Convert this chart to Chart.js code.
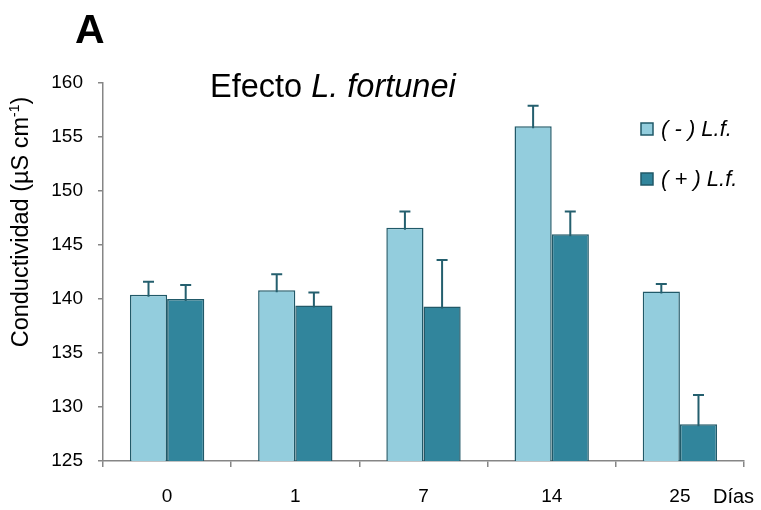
<!DOCTYPE html>
<html>
<head>
<meta charset="utf-8">
<script src="https://cdn.jsdelivr.net/npm/chart.js@4.4.1/dist/chart.umd.min.js"></script>
<style>
  html, body { margin: 0; padding: 0; background: #fff; }
  #wrap { width: 761px; height: 510px; position: relative; }
</style>
</head>
<body>
<div id="wrap"><canvas id="chart"></canvas></div>
<script>
// data
const days = ["0", "1", "7", "14", "25"];
const sinLf = [140.4, 140.8, 146.6, 156.0, 140.7];
const sinLfErr = [1.2, 1.5, 1.5, 1.9, 0.7];
const conLf = [140.0, 139.4, 139.3, 146.0, 128.4];
const conLfErr = [1.3, 1.2, 4.3, 2.1, 2.7];
const yTicks = [125, 130, 135, 140, 145, 150, 155, 160];

const FONT = "'Liberation Sans', Arial, sans-serif";
const axisColor = "#868686";
const edge = "#215968";

// upward error bars with a cap
const errorBars = {
    id: "errorBars",
    afterDatasetsDraw(chart) {
        const ctx = chart.ctx;
        const yScale = chart.scales.y;
        ctx.save();
        ctx.strokeStyle = "#245f6e";
        ctx.lineWidth = 2;
        chart.data.datasets.forEach((ds, i) => {
            const meta = chart.getDatasetMeta(i);
            meta.data.forEach((bar, j) => {
                const top = yScale.getPixelForValue(ds.data[j] + ds.errors[j]);
                ctx.beginPath();
                ctx.moveTo(bar.x, bar.y + 2);
                ctx.lineTo(bar.x, top);
                ctx.moveTo(bar.x - 5.5, top);
                ctx.lineTo(bar.x + 5.5, top);
                ctx.stroke();
            });
        });
        ctx.restore();
    }
};

// title, panel letter, legend, axis labels
const decorations = {
    id: "decorations",
    afterDraw(chart) {
        const ctx = chart.ctx;
        ctx.save();
        ctx.fillStyle = "#000";
        ctx.textBaseline = "alphabetic";

        ctx.font = "bold 41px " + FONT;
        ctx.fillText("A", 75, 43);

        ctx.font = "32.5px " + FONT;
        ctx.fillText("Efecto ", 210, 97);
        const w = ctx.measureText("Efecto ").width;
        ctx.font = "italic 32.5px " + FONT;
        ctx.fillText("L. fortunei", 210 + w, 97);

        // legend
        const items = [
            { label: "( - ) L.f.", color: chart.data.datasets[0].backgroundColor, y: 129 },
            { label: "( + ) L.f.", color: chart.data.datasets[1].backgroundColor, y: 179 }
        ];
        items.forEach(it => {
            ctx.fillStyle = it.color;
            ctx.fillRect(641, it.y - 6, 12, 12);
            ctx.strokeStyle = edge;
            ctx.lineWidth = 1.5;
            ctx.strokeRect(641, it.y - 6, 12, 12);
            ctx.fillStyle = "#000";
            ctx.font = "italic 22px " + FONT;
            ctx.textBaseline = "middle";
            ctx.fillText(it.label, 661, it.y + 1);
        });

        // x axis unit
        ctx.textBaseline = "middle";
        ctx.font = "20px " + FONT;
        ctx.fillText("Días", 713, 497);

        // y axis title with superscript
        ctx.translate(22, 222);
        ctx.rotate(-Math.PI / 2);
        ctx.textBaseline = "middle";
        const big = "23.5px " + FONT, small = "14px " + FONT;
        const p1 = "Conductividad (µS cm", p2 = "-1", p3 = ")";
        ctx.font = big;
        const w1 = ctx.measureText(p1).width, w3 = ctx.measureText(p3).width;
        ctx.font = small;
        const w2 = ctx.measureText(p2).width;
        let x = -(w1 + w2 + w3) / 2;
        ctx.font = big;
        ctx.fillText(p1, x, 0);
        x += w1;
        ctx.font = small;
        ctx.fillText(p2, x, -7);
        x += w2;
        ctx.font = big;
        ctx.fillText(p3, x, 0);
        ctx.restore();
    }
};

new Chart(document.getElementById("chart"), {
    type: "bar",
    data: {
        labels: days,
        datasets: [
            {
                label: "( - ) L.f.",
                data: sinLf,
                errors: sinLfErr,
                backgroundColor: "#93CDDD",
                borderColor: edge,
                borderWidth: 1.5
            },
            {
                label: "( + ) L.f.",
                data: conLf,
                errors: conLfErr,
                backgroundColor: "#31859C",
                borderColor: edge,
                borderWidth: 1.5
            }
        ]
    },
    options: {
        responsive: true,
        maintainAspectRatio: false,
        animation: false,
        layout: { padding: { top: 83, right: 17, left: 0, bottom: 0 } },
        datasets: {
            bar: { barPercentage: 1.0, categoryPercentage: 0.58 }
        },
        plugins: {
            legend: { display: false },
            tooltip: { enabled: false }
        },
        scales: {
            x: {
                grid: {
                    offset: true,
                    drawOnChartArea: false,
                    color: axisColor,
                    tickLength: 6,
                    lineWidth: 1.5
                },
                border: { color: axisColor, width: 1.5 },
                ticks: {
                    color: "#000",
                    font: { family: FONT, size: 19 },
                    padding: 18
                },
                afterFit(scale) { scale.height = 49; }
            },
            y: {
                min: yTicks[0],
                max: yTicks[yTicks.length - 1],
                afterBuildTicks(scale) {
                    scale.ticks = yTicks.map(v => ({ value: v }));
                },
                grid: {
                    drawOnChartArea: false,
                    color: axisColor,
                    tickLength: 5,
                    lineWidth: 1.5
                },
                border: { color: axisColor, width: 1.5 },
                ticks: {
                    color: "#000",
                    font: { family: FONT, size: 19 },
                    padding: 15
                },
                afterFit(scale) { scale.width = 103; }
            }
        }
    },
    plugins: [errorBars, decorations]
});
</script>
</body>
</html>
